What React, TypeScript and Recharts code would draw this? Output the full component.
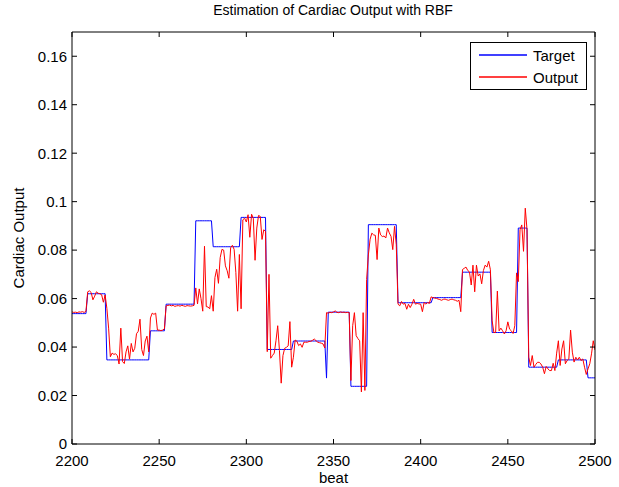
import React from 'react'
import { LineChart, Line, XAxis, YAxis } from 'recharts'

// step levels of the target signal (first beat of each level)
const targetStart = [2200, 2209, 2220, 2245, 2254, 2271, 2281, 2297, 2312, 2327, 2346, 2347, 2360, 2370, 2387, 2407, 2424, 2441, 2456, 2462, 2479, 2496]
const targetLevel = [0.0538, 0.062, 0.0347, 0.0467, 0.0577, 0.0921, 0.0814, 0.0935, 0.039, 0.0425, 0.0272, 0.0544, 0.0238, 0.0905, 0.0583, 0.0604, 0.0709, 0.046, 0.0891, 0.0317, 0.0347, 0.0273]

// RBF output, one value per beat from 2200 to 2500
const output = [
  0.0545, 0.0543, 0.0544, 0.0542, 0.0545, 0.0544, 0.0546, 0.0543, 0.0547, 0.0628,
  0.0632, 0.0625, 0.0595, 0.061, 0.0628, 0.0622, 0.062, 0.0616, 0.0585, 0.0615,
  0.056, 0.0478, 0.036, 0.0375, 0.037, 0.0372, 0.0365, 0.033, 0.0478, 0.034,
  0.0332, 0.038, 0.0405, 0.035, 0.0415, 0.038, 0.0395, 0.0455, 0.0465, 0.0515,
  0.039, 0.0365, 0.0425, 0.0445, 0.038, 0.052, 0.054, 0.0535, 0.054, 0.047,
  0.047, 0.0468, 0.047, 0.0475, 0.057, 0.0572, 0.0573, 0.057, 0.0572, 0.0568,
  0.057, 0.0571, 0.0569, 0.0572, 0.057, 0.0568, 0.0571, 0.057, 0.0569, 0.057,
  0.0572, 0.0644, 0.0578, 0.064, 0.06, 0.0548, 0.0816, 0.0567, 0.0565, 0.0558,
  0.0612, 0.0548, 0.0687, 0.0721, 0.0663, 0.0769, 0.0803, 0.08, 0.0735, 0.0715,
  0.0684, 0.081, 0.082, 0.0803, 0.0707, 0.0548, 0.0782, 0.0558, 0.0925, 0.0932,
  0.0916, 0.0946, 0.0853, 0.0948, 0.0932, 0.0758, 0.0891, 0.0943, 0.0939, 0.0844,
  0.0884, 0.0877, 0.0381, 0.07, 0.0354, 0.0365, 0.0375, 0.0426, 0.0488, 0.0385,
  0.0251, 0.0365, 0.0395, 0.0399, 0.0405, 0.0505, 0.0317, 0.0358, 0.0429, 0.0424,
  0.0406, 0.0413, 0.0399, 0.042, 0.042, 0.042, 0.0423, 0.0424, 0.0428, 0.0433,
  0.0426, 0.042, 0.0418, 0.0416, 0.0413, 0.0396, 0.0542, 0.054, 0.0543, 0.0542,
  0.0545, 0.0549, 0.0543, 0.0542, 0.0545, 0.0543, 0.0544, 0.0542, 0.0543, 0.0542,
  0.0262, 0.0488, 0.0542, 0.0447, 0.0435, 0.0426, 0.0215, 0.0542, 0.0221, 0.0679,
  0.078, 0.0845, 0.087, 0.0863, 0.0861, 0.0761, 0.0891, 0.0863, 0.0856, 0.0858,
  0.085, 0.0891, 0.0871, 0.0857, 0.0802, 0.0898, 0.0822, 0.0577, 0.057, 0.0588,
  0.0577, 0.058, 0.0556, 0.0577, 0.0563, 0.0577, 0.0597, 0.0577, 0.058, 0.0578,
  0.0577, 0.0546, 0.0584, 0.0577, 0.0584, 0.058, 0.0607, 0.0604, 0.0602, 0.0601,
  0.0598, 0.0596, 0.0593, 0.0597, 0.0598, 0.0595, 0.0593, 0.0596, 0.0598, 0.0595,
  0.0593, 0.0589, 0.0593, 0.0546, 0.072, 0.0725, 0.073, 0.0716, 0.071, 0.0656,
  0.0738, 0.0628, 0.0738, 0.0693, 0.0702, 0.0661, 0.0716, 0.0738, 0.073, 0.0754,
  0.0719, 0.0508, 0.046, 0.046, 0.0631, 0.0467, 0.0478, 0.0467, 0.0454, 0.0467,
  0.0504, 0.0474, 0.0467, 0.0456, 0.0488, 0.0706, 0.067, 0.0884, 0.0904, 0.0795,
  0.0973, 0.0885, 0.0358, 0.0324, 0.0365, 0.0317, 0.0328, 0.0337, 0.0337, 0.033,
  0.0317, 0.029, 0.032, 0.031, 0.0303, 0.0303, 0.0333, 0.0303, 0.0375, 0.0426,
  0.0324, 0.0392, 0.0426, 0.0331, 0.0344, 0.0351, 0.047, 0.0379, 0.0338, 0.0358,
  0.0347, 0.0358, 0.0344, 0.0351, 0.0317, 0.0287, 0.031, 0.0331, 0.0372, 0.0426,
  0.0388,
]

const xTicks = [2200, 2250, 2300, 2350, 2400, 2450, 2500]
const yTicks = [0, 0.02, 0.04, 0.06, 0.08, 0.1, 0.12, 0.14, 0.16]
const seriesNames = ['Target', 'Output']
const seriesColors = ['#0000ff', '#ff0000']

const firstBeat = 2200

const data = output.map((v, i) => {
  const beat = firstBeat + i
  let k = 0
  while (k + 1 < targetStart.length && targetStart[k + 1] <= beat) k++
  return { beat, target: targetLevel[k], output: v }
})

const font = '"Liberation Sans", Arial, sans-serif'
const tickStyle = { fill: '#000', fontSize: 15, fontFamily: font }

function LegendBox() {
  return (
    <div style={{ position: 'absolute', left: 470, top: 42, border: '1px solid #000', background: '#fff', width: 115, height: 46, fontSize: 15 }}>
      {seriesNames.map((name, i) => (
        <div key={name} style={{ position: 'absolute', left: 0, top: 2 + i * 22, height: 20, display: 'flex', alignItems: 'center' }}>
          <svg width={48} height={4} style={{ marginLeft: 8, marginRight: 6, display: 'block' }}>
            <line x1={0} y1={2} x2={48} y2={2} stroke={seriesColors[i]} strokeWidth={1.3} />
          </svg>
          <span>{name}</span>
        </div>
      ))}
    </div>
  )
}

export default function App() {
  return (
    <div style={{ position: 'absolute', left: 0, top: 0, width: 619, height: 487, background: '#fff', fontFamily: font }}>
      <div style={{ position: 'absolute', left: 0, width: 666, top: 2, textAlign: 'center', fontSize: 14 }}>
        Estimation of Cardiac Output with RBF
      </div>
      <div style={{ position: 'absolute', left: 72, width: 523, top: 469, textAlign: 'center', fontSize: 15 }}>beat</div>
      <div style={{ position: 'absolute', left: 18, top: 238, width: 0, height: 0 }}>
        <div style={{ position: 'absolute', transform: 'translate(-50%, -50%) rotate(-90deg)', whiteSpace: 'nowrap', fontSize: 15 }}>
          Cardiac Output
        </div>
      </div>
      <LineChart width={619} height={487} data={data} margin={{ top: 31, right: 23, bottom: 13, left: 12 }}>
        <XAxis xAxisId="b" dataKey="beat" type="number" domain={[2200, 2500]} ticks={xTicks} allowDataOverflow
          tickSize={-5} tickMargin={16} tick={tickStyle} axisLine={{ stroke: '#000', strokeWidth: 1 }} tickLine={{ stroke: '#000' }} height={30} />
        <XAxis xAxisId="t" orientation="top" dataKey="beat" type="number" domain={[2200, 2500]} ticks={xTicks} allowDataOverflow
          tickSize={-5} tickFormatter={() => ''} axisLine={{ stroke: '#000' }} tickLine={{ stroke: '#000' }} height={1} />
        <YAxis yAxisId="l" domain={[0, 0.17]} ticks={yTicks} allowDataOverflow tickSize={-5} tickMargin={10} tick={tickStyle}
          axisLine={{ stroke: '#000', strokeWidth: 1 }} tickLine={{ stroke: '#000' }} width={60} />
        <YAxis yAxisId="r" orientation="right" domain={[0, 0.17]} ticks={yTicks} allowDataOverflow tickSize={-5} tickFormatter={() => ''}
          axisLine={{ stroke: '#000' }} tickLine={{ stroke: '#000' }} width={1} />
        <Line xAxisId="b" yAxisId="l" type="linear" dataKey="target" name="Target" stroke={seriesColors[0]} strokeWidth={1} dot={false} isAnimationActive={false} />
        <Line xAxisId="b" yAxisId="l" type="linear" dataKey="output" name="Output" stroke={seriesColors[1]} strokeWidth={1} dot={false} isAnimationActive={false} />
      </LineChart>
      <LegendBox />
    </div>
  )
}
